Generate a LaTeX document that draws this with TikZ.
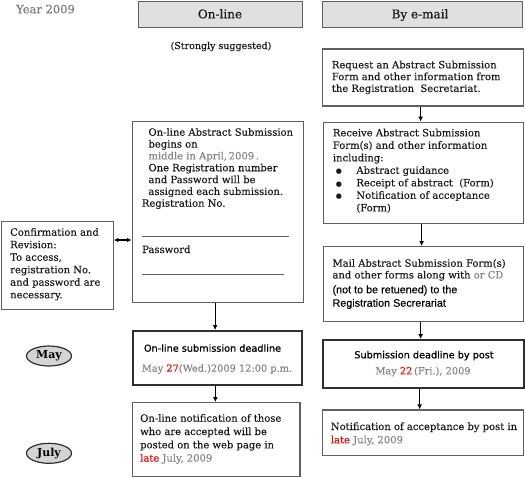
\documentclass[tikz,border=0pt]{standalone}
\usepackage{fontspec}
\setmainfont{DejaVu Serif}[UprightFeatures={FakeBold=0.25}]
\newfontfamily\sansf{Liberation Sans}[UprightFeatures={FakeBold=0.2}]
\newfontfamily\dsansf{DejaVu Sans}[UprightFeatures={FakeBold=0.9}]
\newfontfamily\symf{DejaVu Sans}
\usetikzlibrary{arrows.meta,shapes.geometric}
\definecolor{boxgray}{HTML}{606060}
\definecolor{thickgray}{HTML}{303030}
\definecolor{hdrfill}{HTML}{E0E0E0}
\definecolor{ovalfill}{HTML}{D4D4D4}
\definecolor{txtgray}{HTML}{858585}
\definecolor{yeargray}{HTML}{7A7A7A}
\definecolor{txtblack}{HTML}{1A1A1A}
\definecolor{hotred}{HTML}{FF0000}
\newcommand{\mlines}[2]{\vtop{\baselineskip=#1pt\lineskiplimit=-20pt\lineskip=0pt\halign{##\hfil\cr#2\crcr}}}
\newcommand{\bul}{{\symf\fontsize{7}{7}\selectfont ●}}
\newcommand{\bulrow}[1]{\hspace*{3pt}\makebox[20.5pt][l]{\bul}#1}
\tikzset{
  box/.style={draw=boxgray, line width=1.3pt, inner sep=0pt, anchor=north west},
  thickbox/.style={draw=thickgray, line width=2.3pt, inner sep=0pt, anchor=north west},
  hdr/.style={draw=boxgray, fill=hdrfill, line width=1.2pt, inner sep=0pt, anchor=north west},
  txt/.style={inner sep=0pt, anchor=base west, text=txtblack, font=\fontsize{10}{12}\selectfont},
  sanstxt/.style={inner sep=0pt, anchor=base west, text=black, font=\sansf\fontsize{10.8}{13}\selectfont},
  hdrtxt/.style={inner sep=0pt, anchor=base, text=txtblack, font=\fontsize{12}{14}\selectfont},
  smalltxt/.style={inner sep=0pt, anchor=base, text=txtblack, font=\fontsize{9.5}{11}\selectfont},
  boldtxt/.style={inner sep=0pt, anchor=base, text=black, font=\dsansf\fontsize{9.7}{12}\selectfont},
  datetxt/.style={inner sep=0pt, anchor=base, text=txtgray, font=\fontsize{9.8}{12}\selectfont},
  oval/.style={ellipse, draw=thickgray, fill=ovalfill, line width=1.2pt, minimum width=45pt, minimum height=20pt, inner sep=0pt, font=\bfseries\fontsize{11}{12}\selectfont, text=black},
  arr/.style={-{Latex[length=5pt,width=5pt]}, line width=1.2pt, draw=black},
  darr/.style={{Latex[length=4.5pt,width=4.5pt]}-{Latex[length=4.5pt,width=4.5pt]}, line width=1.2pt, draw=black},
  rule/.style={draw=boxgray, line width=1pt}
}
\begin{document}
\begin{tikzpicture}[x=1pt,y=-1pt]
\useasboundingbox (0,0) rectangle (525,477);
% year
\node[txt, text=yeargray, font=\fontsize{11.5}{13}\selectfont] (year) at (16,13.3) {Year 2009};
% headers
\node[hdr, minimum width=164pt, minimum height=26.5pt] (hon) at (138,0.7) {};
\node[hdr, minimum width=200pt, minimum height=26.5pt] (hem) at (322,0.7) {};
\node[hdrtxt] (honT) at (220,18.3) {On-line};
\node[hdrtxt] (hemT) at (420,18.3) {By e-mail};
\node[smalltxt] (sugg) at (221,49) {(Strongly suggested)};
% right column boxes
\node[box, minimum width=201pt, minimum height=57pt] (req) at (322,48.3) {};
\node[txt] (reqT) at (331.7,68.3) {\mlines{11.8}{Request an Abstract Submission\cr Form and other information from\cr the Registration\ \ Secretariat.}};
\node[box, minimum width=200pt, minimum height=101.5pt] (rec) at (323,121.5) {};
\node[txt] (recT) at (332.7,136.3) {\mlines{12.5}{Receive Abstract Submission\cr Form(s) and other information\cr including:\cr \bulrow{Abstract guidance}\cr \bulrow{Receipt of abstract\ \ (Form)}\cr \bulrow{Notification of acceptance}\cr \hspace*{23.5pt}(Form)}};
\node[box, minimum width=200pt, minimum height=75pt] (mail) at (323,246) {};
\node[txt] (mailT) at (332.3,266.7) {\mlines{11.7}{Mail Abstract Submission Form(s)\cr and other forms along with {\color{txtgray}or CD}}};
\node[sanstxt] (mailS) at (332.3,293.3) {\mlines{13.4}{(not to be retuened) to the\cr Registration Secrerariat}};
\node[thickbox, minimum width=201pt, minimum height=47.5pt] (sub) at (322,339) {};
\node[boldtxt] (subT) at (424,358.3) {Submission deadline by post};
\node[datetxt] (subD) at (423,374.3) {May {\color{hotred}22}\,(Fri.), 2009};
\node[box, minimum width=201pt, minimum height=45.7pt] (notR) at (322,409.3) {};
\node[txt] (notRT) at (330.7,430) {\mlines{13.3}{Notification of acceptance by post in\cr {\color{hotred}late} {\color{txtgray}July, 2009}}};
% left column
\node[box, minimum width=171.5pt, minimum height=181pt] (onl) at (131.5,121) {};
\node[txt] (onlT) at (148.3,135.7) {\mlines{11.85}{On-line Abstract Submission\cr begins on\cr {\color{txtgray}middle in April,\,2009\,.}\cr One Registration number\cr and Password will be\cr assigned each submission.}};
\node[txt] (regno) at (141.7,206.7) {Registration No.};
\coordinate (r1a) at (142,236);
\coordinate (r1b) at (289,236);
\draw[rule] (r1a) -- (r1b);
\node[txt] (pwd) at (142,253) {Password};
\coordinate (r2a) at (142,274);
\coordinate (r2b) at (284,274);
\draw[rule] (r2a) -- (r2b);
\node[box, minimum width=111.5pt, minimum height=88pt] (conf) at (1,221) {};
\node[txt] (confT) at (10,235.7) {\mlines{12.5}{Confirmation and\cr Revision:\cr To access,\cr registration No.\cr and password are\cr necessary.}};
\node[thickbox, minimum width=169pt, minimum height=54pt] (dl) at (131.7,330) {};
\node[boldtxt] (dlT) at (212.5,351.7) {On-line submission deadline};
\node[datetxt] (dlD) at (217,371.7) {May {\color{hotred}27}(Wed.)2009 12:00 p.m.};
\node[box, minimum width=167.6pt, minimum height=74pt] (notL) at (131.7,402) {};
\node[txt] (notLT) at (140,421.7) {\mlines{13.3}{On-line notification of those\cr who are accepted will be\cr posted on the web page in\cr {\color{hotred}late} {\color{txtgray}July, 2009}}};
% months
\node[oval] (may) at (49,356) {May};
\node[oval] (july) at (49,453.3) {July};
% connectors
\draw[arr] ([xshift=-2.5pt]req.south) -- ([xshift=-2.5pt]req.south |- rec.north);
\draw[arr] ([xshift=-2pt]rec.south) -- ([xshift=-2pt]rec.south |- mail.north);
\draw[arr] ([xshift=-3pt]mail.south) -- ([xshift=-3pt]mail.south |- sub.north);
\draw[arr] ([xshift=-4pt]sub.south) -- ([xshift=-4pt]sub.south |- notR.north);
\draw[arr] ([xshift=-2.75pt]onl.south) -- ([xshift=-2.75pt]onl.south |- dl.north);
\draw[arr] ([xshift=-2pt]dl.south) -- ([xshift=-2pt]dl.south |- notL.north);
\draw[darr] ([yshift=-19pt]conf.north east) coordinate (da) -- (da -| onl.west);
\end{tikzpicture}
\end{document}
